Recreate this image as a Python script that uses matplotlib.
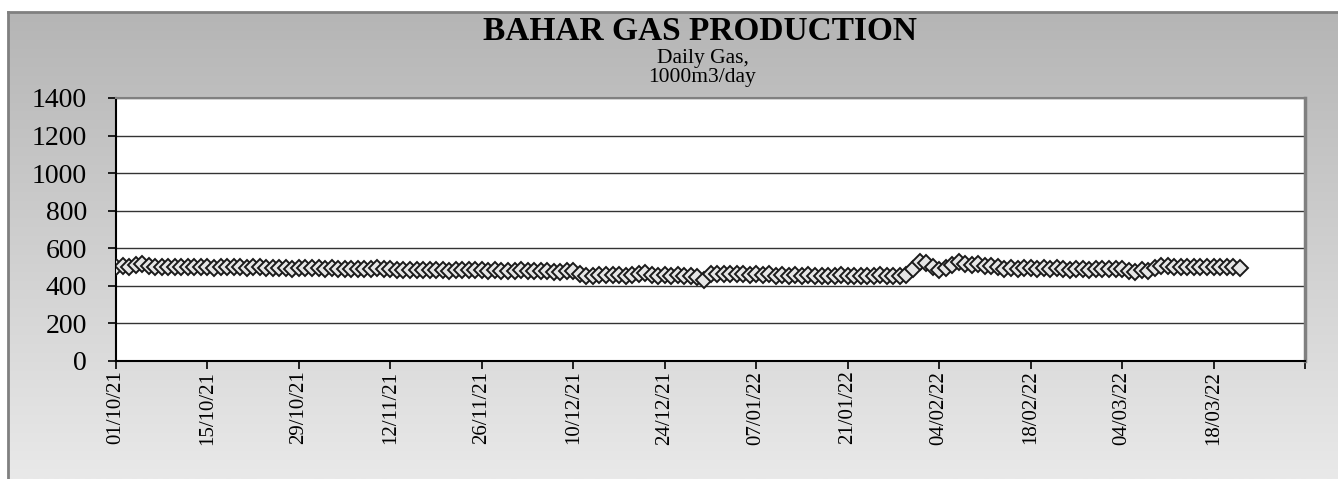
import matplotlib
matplotlib.use("Agg")
import matplotlib.pyplot as plt
import matplotlib.dates as mdates
import numpy as np
import pandas as pd

# daily gas, 1000m3/day, one value per day starting 01/10/21
oct_21 = [500, 505, 498, 512, 515, 505, 500, 500, 500, 500, 498, 500, 500, 498, 500, 497,
          500, 498, 500, 500, 497, 500, 498, 495, 497, 495, 495, 492, 495, 495, 495]
nov_21 = [495, 492, 495, 492, 490, 492, 490, 488, 492, 495, 492, 488, 485, 487, 485, 485,
          487, 483, 485, 482, 480, 482, 485, 487, 485, 483, 480, 482, 480, 480]
dec_21 = [480, 482, 480, 478, 480, 478, 476, 475, 477, 478, 465, 455, 452, 458, 460, 456,
          458, 455, 458, 465, 468, 460, 455, 458, 455, 456, 452, 450, 448, 430, 462]
jan_22 = [465, 462, 465, 462, 465, 460, 462, 458, 462, 455, 458, 455, 458, 455, 456, 455,
          454, 455, 455, 456, 455, 454, 455, 455, 455, 456, 455, 455, 455, 458, 490]
feb_22 = [525, 520, 500, 485, 495, 510, 525, 515, 510, 515, 505, 508, 498, 492, 495, 490,
          495, 495, 492, 495, 490, 495, 488, 482, 488, 490, 485, 490]
mar_22 = [488, 492, 490, 488, 478, 476, 482, 480, 495, 505, 508, 502, 500, 500, 502, 498,
          500, 498, 500, 498, 500, 497]

gas = oct_21 + nov_21 + dec_21 + jan_22 + feb_22 + mar_22
dates = pd.date_range("2021-10-01", periods=len(gas), freq="D")

title = "BAHAR GAS PRODUCTION"
subtitle = ["Daily Gas,", "1000m3/day"]
serif = "Liberation Serif"

W, H = 1338, 479
fig = plt.figure(figsize=(W / 100, H / 100), dpi=100)
fig.patch.set_facecolor("white")

# grey gradient chart frame
bg = fig.add_axes([8 / W, 0, 1 - 8 / W, 1 - 12 / H], zorder=0)
grad = np.linspace(0, 1, 256).reshape(-1, 1)
bg.imshow(grad, aspect="auto", cmap=matplotlib.colors.LinearSegmentedColormap.from_list(
    "g", ["#b5b5b5", "#e9e9e9"]), extent=[0, 1, 0, 1], origin="upper")
bg.set_xticks([])
bg.set_yticks([])
for s in ["top", "left"]:
    bg.spines[s].set_color("#808080")
    bg.spines[s].set_linewidth(2)
for s in ["right", "bottom"]:
    bg.spines[s].set_visible(False)

ax = fig.add_axes([116 / W, 1 - 361 / H, (1305 - 116) / W, (361 - 98) / H], zorder=1)
ax.set_facecolor("white")

ax.plot(dates, gas, color="#1a1a1a", lw=1.5, marker="D", ms=8.5,
        mfc="#e6e6e6", mec="#1a1a1a", mew=1.4, zorder=3)

ax.set_ylim(0, 1400)
ax.set_yticks(np.arange(0, 1401, 200))
ax.yaxis.grid(True, color="#333333", lw=1)
ax.set_axisbelow(True)

start = pd.Timestamp("2021-10-01")
ticks = [start + pd.Timedelta(days=14 * i) for i in range(14)]
ax.set_xlim(mdates.date2num(ticks[0]), mdates.date2num(ticks[-1]))
ax.set_xticks(mdates.date2num(ticks))
ax.set_xticklabels([t.strftime("%d/%m/%y") for t in ticks[:-1]] + [""],
                   rotation=90, fontsize=15, family=serif)
for lab in ax.get_yticklabels():
    lab.set_family(serif)
    lab.set_fontsize(20)

ax.tick_params(axis="both", direction="out", length=6, width=1.2, color="black")
ax.tick_params(axis="x", pad=1)
ax.tick_params(axis="y", pad=15)
for s in ["left", "bottom"]:
    ax.spines[s].set_color("black")
    ax.spines[s].set_linewidth(1.5)
ax.spines["top"].set_color("#808080")
ax.spines["top"].set_linewidth(1.5)
ax.spines["right"].set_color("#808080")
ax.spines["right"].set_linewidth(2.5)

fig.text(0.523, 1 - 40 / H, title, ha="center", va="baseline",
         fontsize=24, fontweight="bold", family=serif)
fig.text(0.525, 1 - 63 / H, subtitle[0], ha="center", va="baseline",
         fontsize=15.5, family=serif)
fig.text(0.525, 1 - 82 / H, subtitle[1], ha="center", va="baseline",
         fontsize=15.5, family=serif)

fig.savefig("out.png", dpi=100)
